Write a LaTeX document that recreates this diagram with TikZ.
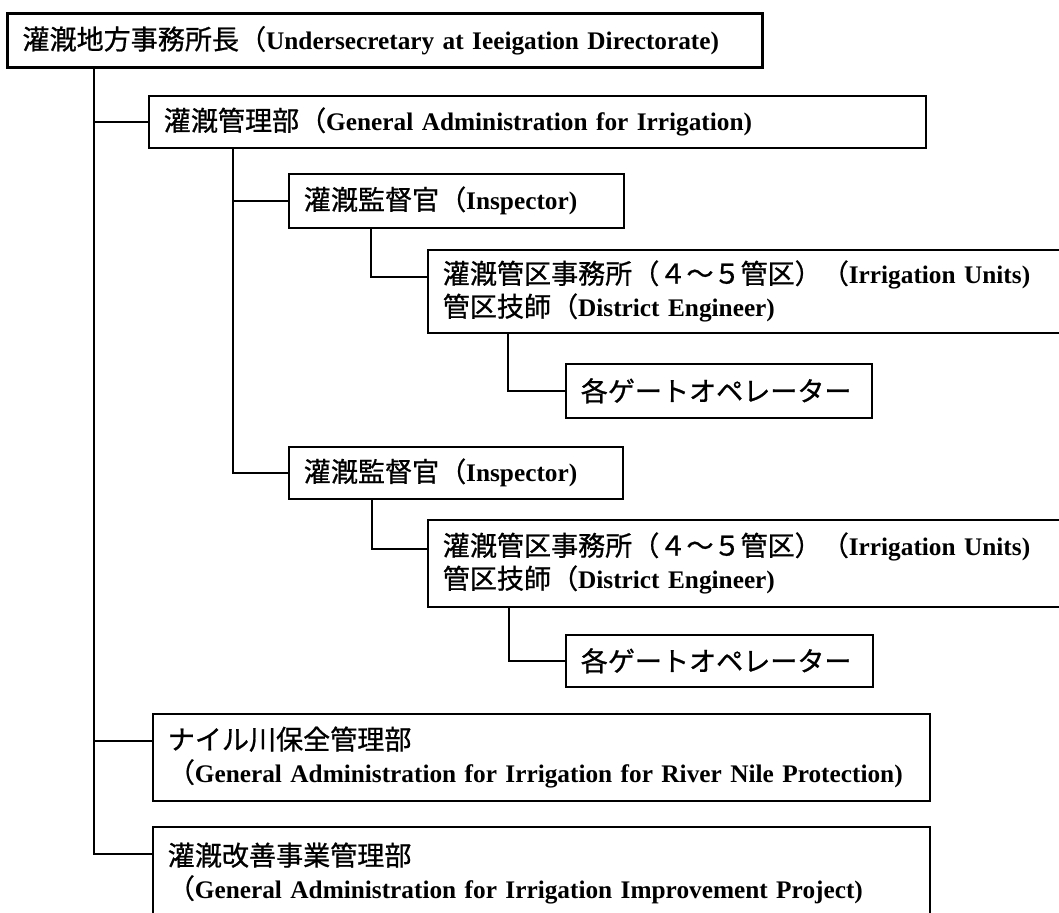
\documentclass[tikz,border=0pt]{standalone}
\usepackage{fontspec}
\setmainfont{Liberation Serif}
\newfontfamily\jpfont[Scale=1.07,FakeBold=0.8]{Noto Sans CJK JP}
\newcommand{\J}[1]{{\jpfont\mdseries #1}}
\usetikzlibrary{calc}
\tikzset{
  orgbox/.style={draw, line width=1.6pt, anchor=north west, inner xsep=15pt, inner ysep=0pt,
    align=left, font=\fontsize{25.3}{33}\selectfont\bfseries},
  topbox/.style={orgbox, line width=3pt},
  link/.style={line width=1.6pt},
  trunk/.style={line width=2.2pt}
}
\begin{document}
\begin{tikzpicture}[x=1pt,y=-1pt]
\useasboundingbox (0,0) rectangle (1059,912);
\clip (0,0) rectangle (1059,912);
\fill[white] (0,0) rectangle (1059,912);

\node[topbox, text width=725pt, minimum height=54pt] (b1) at (6,12)
  {\J{灌漑地方事務所長（}Undersecretary at Ieeigation Directorate)};
\node[orgbox, text width=747pt, minimum height=52pt] (b2) at (148,95)
  {\J{灌漑管理部（}General Administration for Irrigation)};
\node[orgbox, text width=305pt, minimum height=54pt] (b3) at (288,173)
  {\J{灌漑監督官（}Inspector)};
\node[orgbox, text width=670pt, minimum height=83pt] (b4) at (427,249)
  {\J{灌漑管区事務所（４～５管区）（}Irrigation Units)\\\J{管区技師（}District Engineer)};
\node[orgbox, text width=276pt, minimum height=54pt] (b5) at (565,363)
  {\J{各ゲートオペレーター}};
\node[orgbox, text width=304pt, minimum height=52pt] (b6) at (288,446)
  {\J{灌漑監督官（}Inspector)};
\node[orgbox, text width=670pt, minimum height=87pt] (b7) at (427,519)
  {\J{灌漑管区事務所（４～５管区）（}Irrigation Units)\\\J{管区技師（}District Engineer)};
\node[orgbox, text width=277pt, minimum height=52pt] (b8) at (565,634)
  {\J{各ゲートオペレーター}};
\node[orgbox, text width=747pt, minimum height=87pt] (b9) at (152,713)
  {\J{ナイル川保全管理部}\\\J{（}General Administration for Irrigation for River Nile Protection)};
\node[orgbox, text width=747pt, minimum height=93pt] (b10) at (152,826)
  {\J{灌漑改善事業管理部}\\\J{（}General Administration for Irrigation Improvement Project)};

\coordinate (t1) at ($(b1.south west)+(88,0)$);
\coordinate (t2) at ($(b2.south west)+(85,0)$);
\coordinate (c3) at ($(b3.south west)+(83,0)$);
\coordinate (c6) at ($(b6.south west)+(84,0)$);
\coordinate (c4) at ($(b4.south west)+(81,0)$);
\coordinate (c7) at ($(b7.south west)+(82,0)$);
\coordinate (b4l) at ($(b4.north west)+(0,28)$);
\coordinate (b7l) at ($(b7.north west)+(0,30)$);
\coordinate (b9l) at ($(b9.north west)+(0,28)$);
\coordinate (b10l) at ($(b10.north west)+(0,28)$);

% main trunk
\draw[trunk] (t1) |- (b10l);
\draw[link] (t1 |- b2.west) -- (b2.west);
\draw[link] (t1 |- b9l) -- (b9l);
% second trunk
\draw[trunk] (t2) |- (b6.west);
\draw[link] (t2 |- b3.west) -- (b3.west);
% inspector -> units
\draw[link] (c3) |- (b4l);
\draw[link] (c6) |- (b7l);
% units -> gate operators
\draw[link] (c4) |- (b5.west);
\draw[link] (c7) |- (b8.west);
\end{tikzpicture}
\end{document}
